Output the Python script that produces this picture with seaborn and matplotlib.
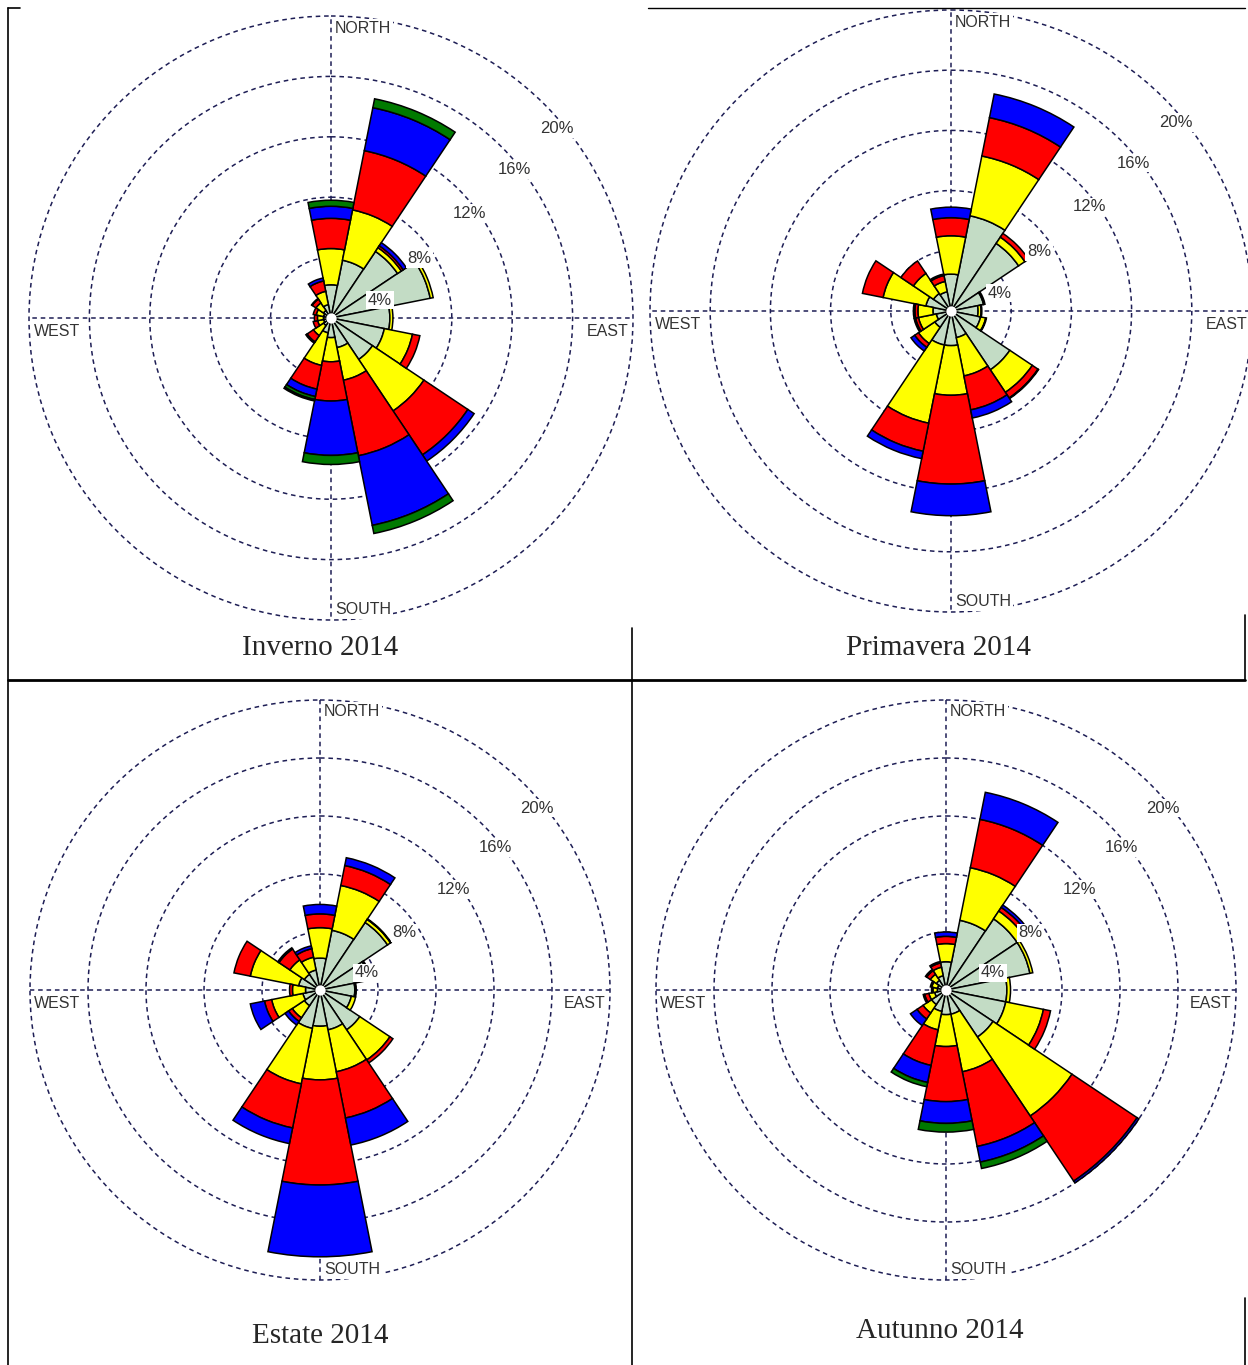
import numpy as np
import seaborn as sns
import matplotlib.pyplot as plt
from matplotlib.lines import Line2D

# 16 compass sectors, clockwise from north
directions = ['N', 'NNE', 'NE', 'ENE', 'E', 'ESE', 'SE', 'SSE',
              'S', 'SSW', 'SW', 'WSW', 'W', 'WNW', 'NW', 'NNW']
class_colors = ['#c3dcc5', '#ffff00', '#ff0000', '#0000ff', '#007a00', '#00e5e5']
ring_values = [4, 8, 12, 16, 20]
ring_labels = ['4%', '8%', '12%', '16%', '20%']

# frequencies (%) per speed class
# Inverno 2014
inv_1 = [2.2, 3.9, 5.3, 6.7, 3.9, 3.6, 3.3, 2.0, 1.3, 1.0, 0.6, 0.5, 0.5, 0.5, 0.6, 0.9]
inv_2 = [2.4, 3.4, 0.3, 0.2, 0.2, 1.9, 4.1, 2.2, 1.6, 2.2, 0.8, 0.4, 0.4, 0.5, 0.6, 0.9]
inv_3 = [2.0, 4.0, 0.15, 0, 0, 0.5, 3.5, 5.1, 2.6, 1.6, 0.5, 0.3, 0.2, 0.2, 0.3, 0.7]
inv_4 = [0.8, 2.9, 0.25, 0, 0, 0, 0.5, 4.7, 3.6, 0.5, 0.1, 0, 0, 0, 0.05, 0.2]
inv_5 = [0.4, 0.6, 0, 0, 0, 0, 0, 0.55, 0.6, 0.2, 0, 0, 0, 0, 0, 0]
inv_6 = [0, 0, 0, 0, 0, 0, 0, 0, 0, 0.1, 0, 0, 0, 0, 0, 0]

# Primavera 2014
pri_1 = [2.45, 6.45, 5.4, 2.2, 1.8, 2.0, 4.7, 1.8, 2.3, 2.3, 1.3, 1.0, 1.2, 1.7, 1.4, 1.3]
pri_2 = [2.55, 4.05, 0.5, 0.1, 0.2, 0.35, 1.8, 2.6, 3.3, 5.3, 1.3, 1.2, 1.0, 2.9, 1.6, 0.7]
pri_3 = [1.2, 2.6, 0.3, 0, 0.05, 0.05, 0.45, 2.3, 5.9, 1.9, 0.3, 0.2, 0.2, 1.4, 1.0, 0.4]
pri_4 = [0.7, 1.6, 0, 0, 0, 0, 0.05, 0.55, 2.1, 0.5, 0.3, 0.1, 0.1, 0, 0, 0.1]
pri_5 = [0] * 16
pri_6 = [0] * 16

# Estate 2014
est_1 = [2.2, 4.2, 5.6, 3.5, 2.4, 2.2, 3.3, 2.8, 2.5, 2.7, 1.3, 1.2, 1.0, 1.5, 1.3, 1.4]
est_2 = [2.1, 3.15, 0.25, 0.1, 0.1, 0.3, 2.5, 2.95, 3.7, 3.9, 1.0, 2.2, 0.9, 3.4, 1.2, 0.9]
est_3 = [0.95, 1.4, 0.05, 0, 0, 0, 0.25, 3.25, 7.25, 3.1, 0.3, 0.5, 0.2, 1.15, 0.9, 0.6]
est_4 = [0.65, 0.55, 0, 0, 0, 0, 0, 1.9, 4.95, 1.1, 0.3, 1.0, 0, 0, 0.1, 0.2]
est_5 = [0] * 16
est_6 = [0] * 16

# Autunno 2014
aut_1 = [1.95, 4.9, 5.9, 5.9, 4.2, 4.2, 3.9, 1.7, 1.7, 1.5, 1.2, 0.8, 0.6, 0.6, 0.8, 1.0]
aut_2 = [1.25, 3.7, 0.65, 0.2, 0.25, 2.65, 6.55, 4.05, 2.2, 1.3, 0.7, 0.4, 0.3, 0.4, 0.5, 0.6]
aut_3 = [0.5, 3.4, 0.3, 0, 0, 0.5, 5.4, 5.25, 3.8, 2.5, 0.5, 0.3, 0.1, 0.1, 0.3, 0.3]
aut_4 = [0.3, 1.9, 0.2, 0, 0, 0, 0.15, 1.1, 1.5, 1.2, 0.55, 0.1, 0, 0, 0.1, 0.1]
aut_5 = [0, 0, 0, 0, 0, 0, 0, 0.45, 0.6, 0.3, 0, 0, 0, 0, 0, 0]
aut_6 = [0] * 16

titles = ['Inverno 2014', 'Primavera 2014', 'Estate 2014', 'Autunno 2014']
panels = [
    [inv_1, inv_2, inv_3, inv_4, inv_5, inv_6],
    [pri_1, pri_2, pri_3, pri_4, pri_5, pri_6],
    [est_1, est_2, est_3, est_4, est_5, est_6],
    [aut_1, aut_2, aut_3, aut_4, aut_5, aut_6],
]
# centre (px) and px per % of each rose, caption position
layout = [((331, 318), 15.1, (320, 648)),
          ((951, 311), 15.05, (939, 648)),
          ((320, 990), 14.5, (320, 1336)),
          ((946, 990), 14.5, (940, 1331))]

sns.set_theme(style='white')
plt.rcParams['font.family'] = ['Liberation Sans', 'DejaVu Sans']

W, H = 1248, 1365
RMAX = 20.6
grid_col = '#1e1e55'
dash = (0, (3, 2.5))
fig = plt.figure(figsize=(W / 100, H / 100), dpi=100)


def rose(ax, classes):
    theta = np.deg2rad(np.arange(16) * 22.5)
    bottom = np.zeros(16)
    for vals, col in zip(classes, class_colors):
        vals = np.array(vals, dtype=float)
        m = vals > 0
        if m.any():
            ax.bar(theta[m], vals[m], width=np.deg2rad(22.5), bottom=bottom[m],
                   color=col, edgecolor='black', linewidth=1.1, zorder=3)
        bottom += vals


for classes, ((cx, cy), sc, (tx, ty)), title in zip(panels, layout, titles):
    R = sc * RMAX
    ax = fig.add_axes([(cx - R) / W, 1 - (cy + R) / H, 2 * R / W, 2 * R / H],
                      projection='polar')
    ax.set_theta_zero_location('N')
    ax.set_theta_direction(-1)
    ax.set_facecolor('none')
    ax.spines['polar'].set_visible(False)
    ax.set_xticks([])
    ax.set_yticks(ring_values)
    ax.set_yticklabels([])
    ax.yaxis.grid(True, color=grid_col, linestyle=dash, linewidth=1.1)
    ax.set_axisbelow(True)
    ax.set_ylim(0, RMAX)
    for a in [0, 90, 180, 270]:
        ax.plot([np.deg2rad(a)] * 2, [0, 20], color=grid_col, ls=dash, lw=1.1, zorder=1)

    rose(ax, classes)
    ax.scatter([0], [0], s=55, color='white', zorder=6, linewidths=0)

    box = dict(boxstyle='square,pad=0.12', fc='white', ec='none')
    lab = dict(fontsize=11.5, color='#333333', zorder=7, textcoords='offset points')
    ax.annotate('NORTH', xy=(0, 19.2), xytext=(3, 0), ha='left', va='center', bbox=box, **lab)
    ax.annotate('SOUTH', xy=(np.pi, 19.3), xytext=(3, 0), ha='left', va='center', bbox=box, **lab)
    ax.annotate('EAST', xy=(np.pi / 2, 19.7), xytext=(0, -10), ha='right', va='center', bbox=box, **lab)
    ax.annotate('WEST', xy=(3 * np.pi / 2, 19.7), xytext=(0, -10), ha='left', va='center', bbox=box, **lab)

    for ang, r, txt in zip([70, 56, 53, 51, 50], [3.45, 7.05, 11.5, 15.6, 19.5], ring_labels):
        ax.text(np.deg2rad(ang), r, txt, ha='center', va='center', fontsize=12,
                color='#333333', zorder=7,
                bbox=dict(boxstyle='square,pad=0.1', fc='white', ec='none'))

    fig.text(tx / W, 1 - ty / H, title, ha='center', va='center', fontsize=21,
             family=['Liberation Serif', 'DejaVu Serif'])


def frame(x0, y0, x1, y1, lw=1.2):
    fig.add_artist(Line2D([x0 / W, x1 / W], [1 - y0 / H, 1 - y1 / H],
                          color='black', lw=lw))


frame(8, 8, 8, 1365)
frame(8, 8, 20, 8)
frame(648, 8, 1245, 8, lw=1)
frame(8, 680, 1245, 680, lw=2)
frame(632, 628, 632, 1365)
frame(1245, 615, 1245, 680)
frame(1245, 1298, 1245, 1365)

fig.savefig('out.png', dpi=100)
